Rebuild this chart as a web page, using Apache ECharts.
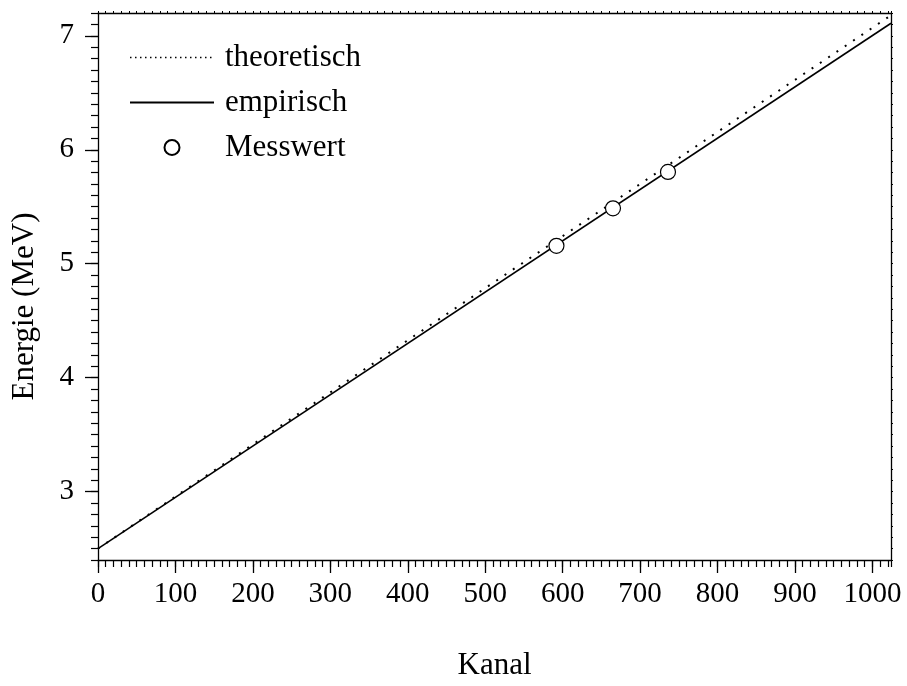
<!DOCTYPE html>
<html>
<head>
<meta charset="utf-8">
<script src="https://cdn.jsdelivr.net/npm/echarts@6/dist/echarts.min.js"></script>
<style>
  html, body { margin: 0; padding: 0; background: #fff; }
  #wrap { width: 907px; height: 686px; }
</style>
</head>
<body>
<div id="wrap"></div>
<script>
// Kanal-Endpunkte der Geraden
var lineChannels = [0, 1024];
var theoEnergy = [2.50, 7.18];
var empEnergy = [2.50, 7.11];
// Messwerte
var measChannels = [592, 665, 736];
var measEnergy = [5.157, 5.486, 5.805];
// Achsenbeschriftungen
var xTickLabels = [0, 100, 200, 300, 400, 500, 600, 700, 800, 900, 1000];
var yTickLabels = [3, 4, 5, 6, 7];

var FONT = '"Liberation Serif", "Times New Roman", serif';

function pairs(xs, ys) {
  return xs.map(function (x, i) { return [x, ys[i]]; });
}

var myChart = echarts.init(document.getElementById('wrap'));

var option = {
  animation: false,
  backgroundColor: '#fff',
  grid: { left: 98, right: 16, top: 13, bottom: 114, containLabel: false },
  legend: {
    orient: 'vertical',
    left: 124,
    top: 37,
    padding: 5,
    itemWidth: 84,
    itemHeight: 15,
    itemGap: 14,
    textStyle: { fontFamily: FONT, fontSize: 31, color: '#000', lineHeight: 30, padding: [0, 0, 0, 6] },
    data: [
      { name: 'theoretisch', itemStyle: { opacity: 0 }, lineStyle: { type: [1.5, 3.5], width: 1.5, color: '#000' } },
      { name: 'empirisch', itemStyle: { opacity: 0 } },
      { name: 'Messwert' }
    ]
  },
  xAxis: [
    {
      // Hauptachse mit Beschriftung
      type: 'value', position: 'bottom', gridIndex: 0,
      min: 0, max: 1024,
      name: 'Kanal', nameLocation: 'middle', nameGap: 90,
      nameTextStyle: { fontFamily: FONT, fontSize: 31, color: '#000' },
      axisLine: { show: true, onZero: false, lineStyle: { color: '#000', width: 1.3 } },
      axisTick: { show: true, inside: false, length: 13, customValues: xTickLabels, lineStyle: { color: '#000', width: 1.3 } },
      axisLabel: {
        show: true, margin: 20, customValues: xTickLabels,
        fontFamily: FONT, fontSize: 29, color: '#000',
        formatter: function (v) { return String(v); }
      },
      splitLine: { show: false }
    },
    {
      // kleine Striche unten
      type: 'value', position: 'bottom', gridIndex: 0,
      min: 0, max: 1024, interval: 10,
      axisLine: { show: false, onZero: false },
      axisTick: { show: true, inside: false, length: 7, lineStyle: { color: '#000', width: 1.2 } },
      axisLabel: { show: false },
      splitLine: { show: false }
    },
    {
      // obere Achse
      type: 'value', position: 'top', gridIndex: 0,
      min: 0, max: 1024, interval: 10,
      axisLine: { show: true, onZero: false, lineStyle: { color: '#000', width: 1.3 } },
      axisTick: { show: true, inside: false, length: 2, lineStyle: { color: '#000', width: 1 } },
      axisLabel: { show: false },
      splitLine: { show: false }
    }
  ],
  yAxis: [
    {
      type: 'value', position: 'left', gridIndex: 0,
      min: 2.4, max: 7.2,
      name: 'Energie (MeV)', nameLocation: 'middle', nameGap: 58,
      nameTextStyle: { fontFamily: FONT, fontSize: 31, color: '#000', padding: [0, 40, 0, 0] },
      axisLine: { show: true, onZero: false, lineStyle: { color: '#000', width: 1.3 } },
      axisTick: { show: true, inside: false, length: 13, customValues: yTickLabels, lineStyle: { color: '#000', width: 1.3 } },
      axisLabel: { show: true, margin: 24, customValues: yTickLabels, fontFamily: FONT, fontSize: 29, color: '#000' },
      splitLine: { show: false }
    },
    {
      type: 'value', position: 'left', gridIndex: 0,
      min: 2.4, max: 7.2, interval: 0.1,
      axisLine: { show: false, onZero: false },
      axisTick: { show: true, inside: false, length: 7, lineStyle: { color: '#000', width: 1.2 } },
      axisLabel: { show: false },
      splitLine: { show: false }
    },
    {
      type: 'value', position: 'right', gridIndex: 0,
      min: 2.4, max: 7.2, interval: 0.1,
      axisLine: { show: true, onZero: false, lineStyle: { color: '#000', width: 1.3 } },
      axisTick: { show: true, inside: false, length: 2, lineStyle: { color: '#000', width: 1 } },
      axisLabel: { show: false },
      splitLine: { show: false }
    }
  ],
  series: [
    {
      name: 'theoretisch', type: 'line',
      xAxisIndex: 0, yAxisIndex: 0,
      symbol: 'none', silent: true,
      lineStyle: { color: '#000', width: 2, type: [2, 8] },
      itemStyle: { color: '#000' },
      data: pairs(lineChannels, theoEnergy)
    },
    {
      name: 'empirisch', type: 'line',
      xAxisIndex: 0, yAxisIndex: 0,
      symbol: 'none', silent: true,
      lineStyle: { color: '#000', width: 1.6, type: 'solid' },
      itemStyle: { color: '#000' },
      data: pairs(lineChannels, empEnergy)
    },
    {
      name: 'Messwert', type: 'scatter',
      xAxisIndex: 0, yAxisIndex: 0,
      symbol: 'circle', symbolSize: 15,
      itemStyle: { color: '#fff', borderColor: '#000', borderWidth: 1.2, opacity: 1 },
      z: 5,
      data: pairs(measChannels, measEnergy)
    }
  ]
};
myChart.setOption(option);
</script>
</body>
</html>
